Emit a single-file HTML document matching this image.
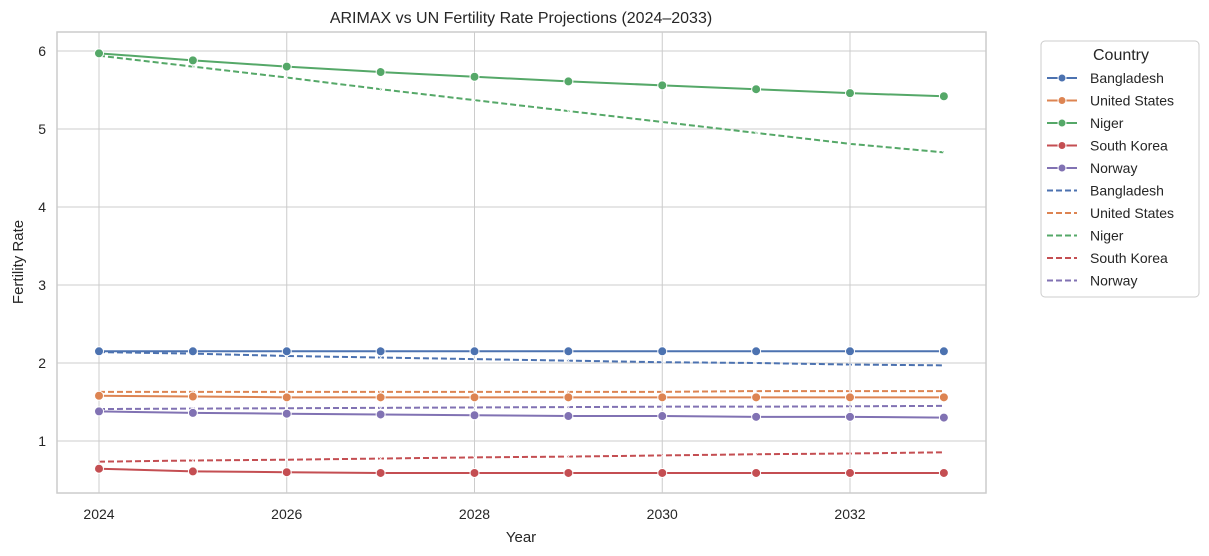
<!DOCTYPE html>
<html><head><meta charset="utf-8"><style>
body{margin:0;background:#fff;font-family:"Liberation Sans","DejaVu Sans",sans-serif;}
svg{display:block}
</style></head><body>
<svg id="chart" width="1209" height="556" xmlns="http://www.w3.org/2000/svg"></svg>
<script>
const years = [2024,2025,2026,2027,2028,2029,2030,2031,2032,2033];
const countries = ["Bangladesh","United States","Niger","South Korea","Norway"];
const colors = ["#4c72b0","#dd8452","#55a868","#c44e52","#8172b3"];
const arimaxBangladesh = [2.15,2.15,2.15,2.15,2.15,2.15,2.15,2.15,2.15,2.15];
const arimaxUS = [1.58,1.57,1.56,1.56,1.56,1.56,1.56,1.56,1.56,1.56];
const arimaxNiger = [5.97,5.88,5.80,5.73,5.67,5.61,5.56,5.51,5.46,5.42];
const arimaxKorea = [0.645,0.61,0.60,0.59,0.59,0.59,0.59,0.59,0.59,0.59];
const arimaxNorway = [1.38,1.36,1.35,1.34,1.33,1.32,1.32,1.31,1.31,1.30];
const unBangladesh = [2.14,2.12,2.09,2.07,2.05,2.03,2.01,2.00,1.98,1.97];
const unUS = [1.63,1.63,1.63,1.63,1.63,1.63,1.63,1.64,1.64,1.64];
const unNiger = [5.94,5.80,5.66,5.51,5.37,5.23,5.09,4.95,4.81,4.70];
const unKorea = [0.735,0.75,0.76,0.775,0.79,0.80,0.815,0.83,0.84,0.855];
const unNorway = [1.41,1.415,1.42,1.425,1.43,1.435,1.44,1.44,1.445,1.45];
const xTicks = [2024,2026,2028,2030,2032];
const yTicks = [1,2,3,4,5,6];

const arimax=[arimaxBangladesh,arimaxUS,arimaxNiger,arimaxKorea,arimaxNorway];
const un=[unBangladesh,unUS,unNiger,unKorea,unNorway];
const L=57,R=986,T=32,B=493;
const x=v=>99+(v-2024)*(850-99)/8;
const y=v=>441-(v-1)*78;
const svg=document.getElementById('chart');
const NS='http://www.w3.org/2000/svg';
function mk(tag,at,parent){const e=document.createElementNS(NS,tag);for(const k in at)e.setAttribute(k,at[k]);(parent||svg).appendChild(e);return e;}
xTicks.forEach(t=>{const g=mk('line',{x1:x(t),x2:x(t),y1:T,y2:B,stroke:'#cccccc','stroke-width':1});

const tx=mk('text',{x:x(t),y:B+26,'text-anchor':'middle','font-size':14,fill:'#262626'});tx.textContent=t;
});
yTicks.forEach(t=>{const g=mk('line',{x1:L,x2:R,y1:y(t),y2:y(t),stroke:'#cccccc','stroke-width':1});

const tx=mk('text',{x:L-11,y:y(t)+5,'text-anchor':'end','font-size':14,fill:'#262626'});tx.textContent=t;
});
const fr=mk('rect',{x:L,y:T,width:R-L,height:B-T,fill:'none',stroke:'#cccccc','stroke-width':1.5});

un.forEach((s,i)=>{const p=mk('polyline',{points:s.map((v,j)=>x(years[j])+','+y(v)).join(' '),fill:'none',stroke:colors[i],'stroke-width':2,'stroke-dasharray':'6,3'});

s.forEach((v,j)=>{const m=mk('text',{x:x(years[j]),y:y(v)+3,'text-anchor':'middle','font-size':8,fill:'#ffffff'});m.textContent='×';
});});
arimax.forEach((s,i)=>{const p=mk('polyline',{points:s.map((v,j)=>x(years[j])+','+y(v)).join(' '),fill:'none',stroke:colors[i],'stroke-width':2});

s.forEach((v,j)=>{const c=mk('circle',{cx:x(years[j]),cy:y(v),r:4.5,fill:colors[i],stroke:'#fff','stroke-width':1});
});});
let t=mk('text',{x:521,y:23,'text-anchor':'middle','font-size':16,fill:'#262626'});t.textContent='ARIMAX vs UN Fertility Rate Projections (2024–2033)';

t=mk('text',{x:521,y:542,'text-anchor':'middle','font-size':15,fill:'#262626'});t.textContent='Year';

t=mk('text',{x:23,y:262,'text-anchor':'middle','font-size':15,fill:'#262626',transform:'rotate(-90 23 262)'});t.textContent='Fertility Rate';

const lg=mk('g',{});
mk('rect',{x:1041,y:41,width:158,height:256,rx:4,fill:'#fff',stroke:'#cccccc'},lg);
t=mk('text',{x:1121,y:60,'text-anchor':'middle','font-size':16,fill:'#262626'},lg);t.textContent='Country';
for(let k=0;k<10;k++){const i=k%5,yy=78+k*22.5;
const e=mk('g',{},lg);
mk('line',{x1:1047,x2:1077,y1:yy,y2:yy,stroke:colors[i],'stroke-width':2,'stroke-dasharray':k<5?'':'6,3'},e);
if(k<5)mk('circle',{cx:1062,cy:yy,r:4,fill:colors[i],stroke:'#fff','stroke-width':1},e);
const tx=mk('text',{x:1090,y:yy+5,'font-size':14,fill:'#262626'},e);tx.textContent=countries[i];}
</script>
</body></html>
